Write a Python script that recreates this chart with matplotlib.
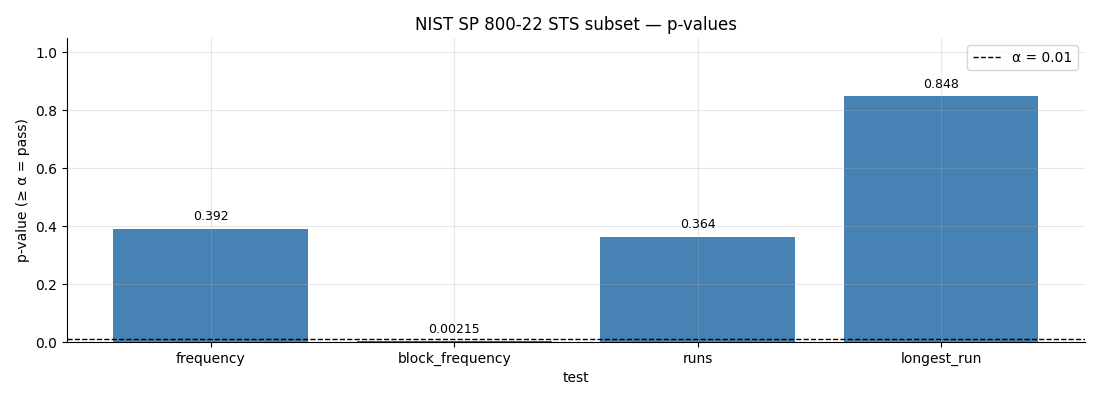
import matplotlib.pyplot as plt

# test results
tests = ["frequency", "block_frequency", "runs", "longest_run"]
p_values = [0.392, 0.00215, 0.364, 0.848]
labels = ["0.392", "0.00215", "0.364", "0.848"]
alpha = 0.01

colors = ["steelblue" if p >= alpha else "#c0392b" for p in p_values]

fig, ax = plt.subplots(figsize=(11, 4), dpi=100)
bars = ax.bar(tests, p_values, color=colors, width=0.8)
ax.axhline(alpha, color="black", linestyle="--", linewidth=1, label=f"α = {alpha}")

for bar, lab in zip(bars, labels):
    ax.text(bar.get_x() + bar.get_width() / 2, bar.get_height() + 0.02, lab,
            ha="center", va="bottom", fontsize=9)

ax.set_ylim(0, 1.05)
ax.set_xlabel("test")
ax.set_ylabel("p-value (≥ α = pass)")
ax.set_title("NIST SP 800-22 STS subset — p-values")
ax.grid(True, alpha=0.3)
ax.spines["top"].set_visible(False)
ax.spines["right"].set_visible(False)
ax.legend(loc="upper right")

plt.subplots_adjust(left=0.061, right=0.986, top=0.905, bottom=0.145)
plt.savefig("out.png")
